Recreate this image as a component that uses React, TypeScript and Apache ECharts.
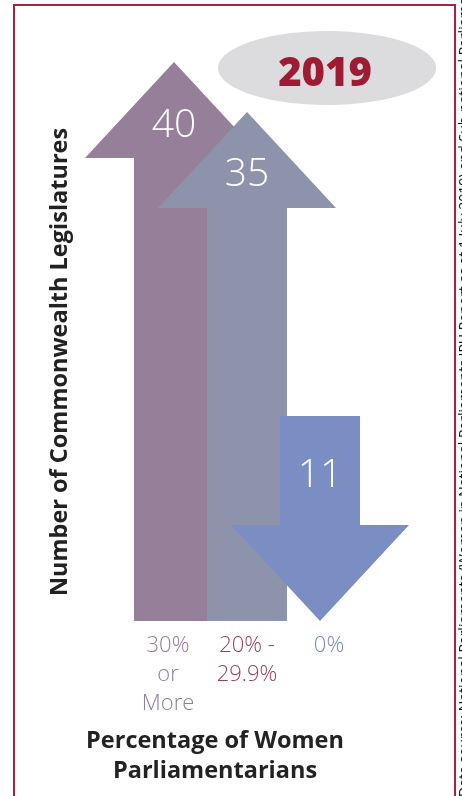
import React, { useEffect, useRef } from "react";
import * as echarts from "echarts";

// ---- data ----
const categories = ["30%\nor\nMore", "20% -\n29.9%", "0%"];
const values = [40, 35, 11];
const directions = ["up", "up", "down"];
const yearLabel = "2019";
const xTitle = "Percentage of Women\nParliamentarians";
const yTitle = "Number of Commonwealth Legislatures";
const sourceText =
  "Data source: National Parliaments (Women in National Parliaments IPU Report as at 1 July 2019) and Sub-national Parliaments";

// ---- styles ----
const arrowColors = ["#957f99", "#8c93ab", "#7b8ec4"];
const catColors = ["#937c9c", "#983f60", "#7589c2"];
const FONT = "'Open Sans', 'DejaVu Sans', sans-serif";

export default function App() {
  const ref = useRef<HTMLDivElement>(null);

  useEffect(() => {
    if (!ref.current) return;
    const chart = echarts.init(ref.current, null, { renderer: "svg" });

    const HEAD_H = 96;
    const HEAD_HW = 89;
    const SHAFT_HW = 40;

    const renderArrow = (params: any, api: any) => {
      const idx = api.value(0);
      const v = api.value(1);
      const pt = api.coord([idx, v]);
      const cx = pt[0];
      const yVal = pt[1];
      const yBase = params.coordSys.y + params.coordSys.height;
      const dir = directions[idx];
      let points: number[][];
      let labelY: number;
      if (dir === "up") {
        const hb = yVal + HEAD_H;
        points = [
          [cx, yVal],
          [cx + HEAD_HW, hb],
          [cx + SHAFT_HW, hb],
          [cx + SHAFT_HW, yBase],
          [cx - SHAFT_HW, yBase],
          [cx - SHAFT_HW, hb],
          [cx - HEAD_HW, hb],
        ];
        labelY = yVal + 59;
      } else {
        const hb = yBase - HEAD_H;
        points = [
          [cx - SHAFT_HW, yVal],
          [cx + SHAFT_HW, yVal],
          [cx + SHAFT_HW, hb],
          [cx + HEAD_HW, hb],
          [cx, yBase],
          [cx - HEAD_HW, hb],
          [cx - SHAFT_HW, hb],
        ];
        labelY = yVal + 55;
      }
      return {
        type: "group",
        children: [
          {
            type: "polygon",
            shape: { points },
            style: { fill: arrowColors[idx] },
          },
          {
            type: "text",
            x: cx,
            y: labelY,
            style: {
              text: String(v),
              fill: "#ffffff",
              fontSize: 39,
              fontFamily: FONT,
              fontWeight: 300,
              align: "center",
              verticalAlign: "middle",
              textAlign: "center",
              textVerticalAlign: "middle",
            },
          },
        ],
      };
    };

    const upData = values
      .map((v, i) => [i, v])
      .filter((d) => directions[d[0]] === "up");
    const downData = values
      .map((v, i) => [i, v])
      .filter((d) => directions[d[0]] === "down");

    const rich: any = {};
    const pads = [
      [0, 12, 0, 0],
      [0, 0, 0, 0],
      [0, 0, 0, 18],
    ];
    catColors.forEach((c, i) => {
      rich["c" + i] = {
        color: c,
        fontSize: 22,
        fontFamily: FONT,
        fontWeight: 300,
        lineHeight: 29,
        padding: pads[i],
      };
    });

    chart.setOption({
      animation: false,
      grid: { left: 137.5, right: 105.5, top: 62, bottom: 175 },
      xAxis: {
        type: "category",
        data: categories,
        axisLine: { show: false },
        axisTick: { show: false },
        splitLine: { show: false },
        axisLabel: {
          interval: 0,
          margin: 7,
          formatter: (val: string, i: number) =>
            val
              .split("\n")
              .map((l) => `{c${i}|${l}}`)
              .join("\n"),
          rich,
        },
      },
      yAxis: [
        { type: "value", min: -16, max: 40, show: false },
        { type: "value", min: 0, max: 30, show: false },
      ],
      series: [
        {
          type: "custom",
          yAxisIndex: 0,
          data: upData,
          encode: { x: 0, y: 1 },
          renderItem: renderArrow,
        },
        {
          type: "custom",
          yAxisIndex: 1,
          data: downData,
          encode: { x: 0, y: 1 },
          renderItem: renderArrow,
        },
      ],
      graphic: [
        {
          type: "rect",
          shape: { x: 14, y: 5, width: 441, height: 900 },
          style: { fill: "none", stroke: "#a8213e", lineWidth: 2 },
        },
        {
          type: "ellipse",
          shape: { cx: 327, cy: 68, rx: 109, ry: 37 },
          style: { fill: "#dcdcdf" },
        },
        {
          type: "text",
          x: 325,
          y: 70,
          style: {
            text: yearLabel,
            fill: "#9e1b34",
            fontSize: 40,
            fontWeight: 800,
            fontFamily: FONT,
            align: "center",
            verticalAlign: "middle",
            textAlign: "center",
            textVerticalAlign: "middle",
          },
        },
        {
          type: "text",
          x: 58,
          y: 362,
          rotation: Math.PI / 2,
          style: {
            text: yTitle,
            fill: "#222222",
            fontSize: 23.5,
            fontWeight: "bold",
            fontFamily: FONT,
            align: "center",
            verticalAlign: "middle",
            textAlign: "center",
            textVerticalAlign: "middle",
          },
        },
        {
          type: "text",
          x: 215,
          y: 754,
          style: {
            text: xTitle,
            fill: "#222222",
            fontSize: 23.5,
            lineHeight: 30,
            fontWeight: "bold",
            fontFamily: FONT,
            align: "center",
            verticalAlign: "middle",
            textAlign: "center",
            textVerticalAlign: "middle",
          },
        },
        {
          type: "text",
          x: 456,
          y: 797,
          rotation: Math.PI / 2,
          style: {
            text: sourceText,
            fill: "#111111",
            fontSize: 14,
            fontFamily: FONT,
            align: "left",
            verticalAlign: "top",
            textAlign: "left",
            textVerticalAlign: "top",
          },
        },
      ],
    });

    return () => chart.dispose();
  }, []);

  return (
    <div
      ref={ref}
      style={{ position: "fixed", left: 0, top: 0, width: 462, height: 796 }}
    />
  );
}
